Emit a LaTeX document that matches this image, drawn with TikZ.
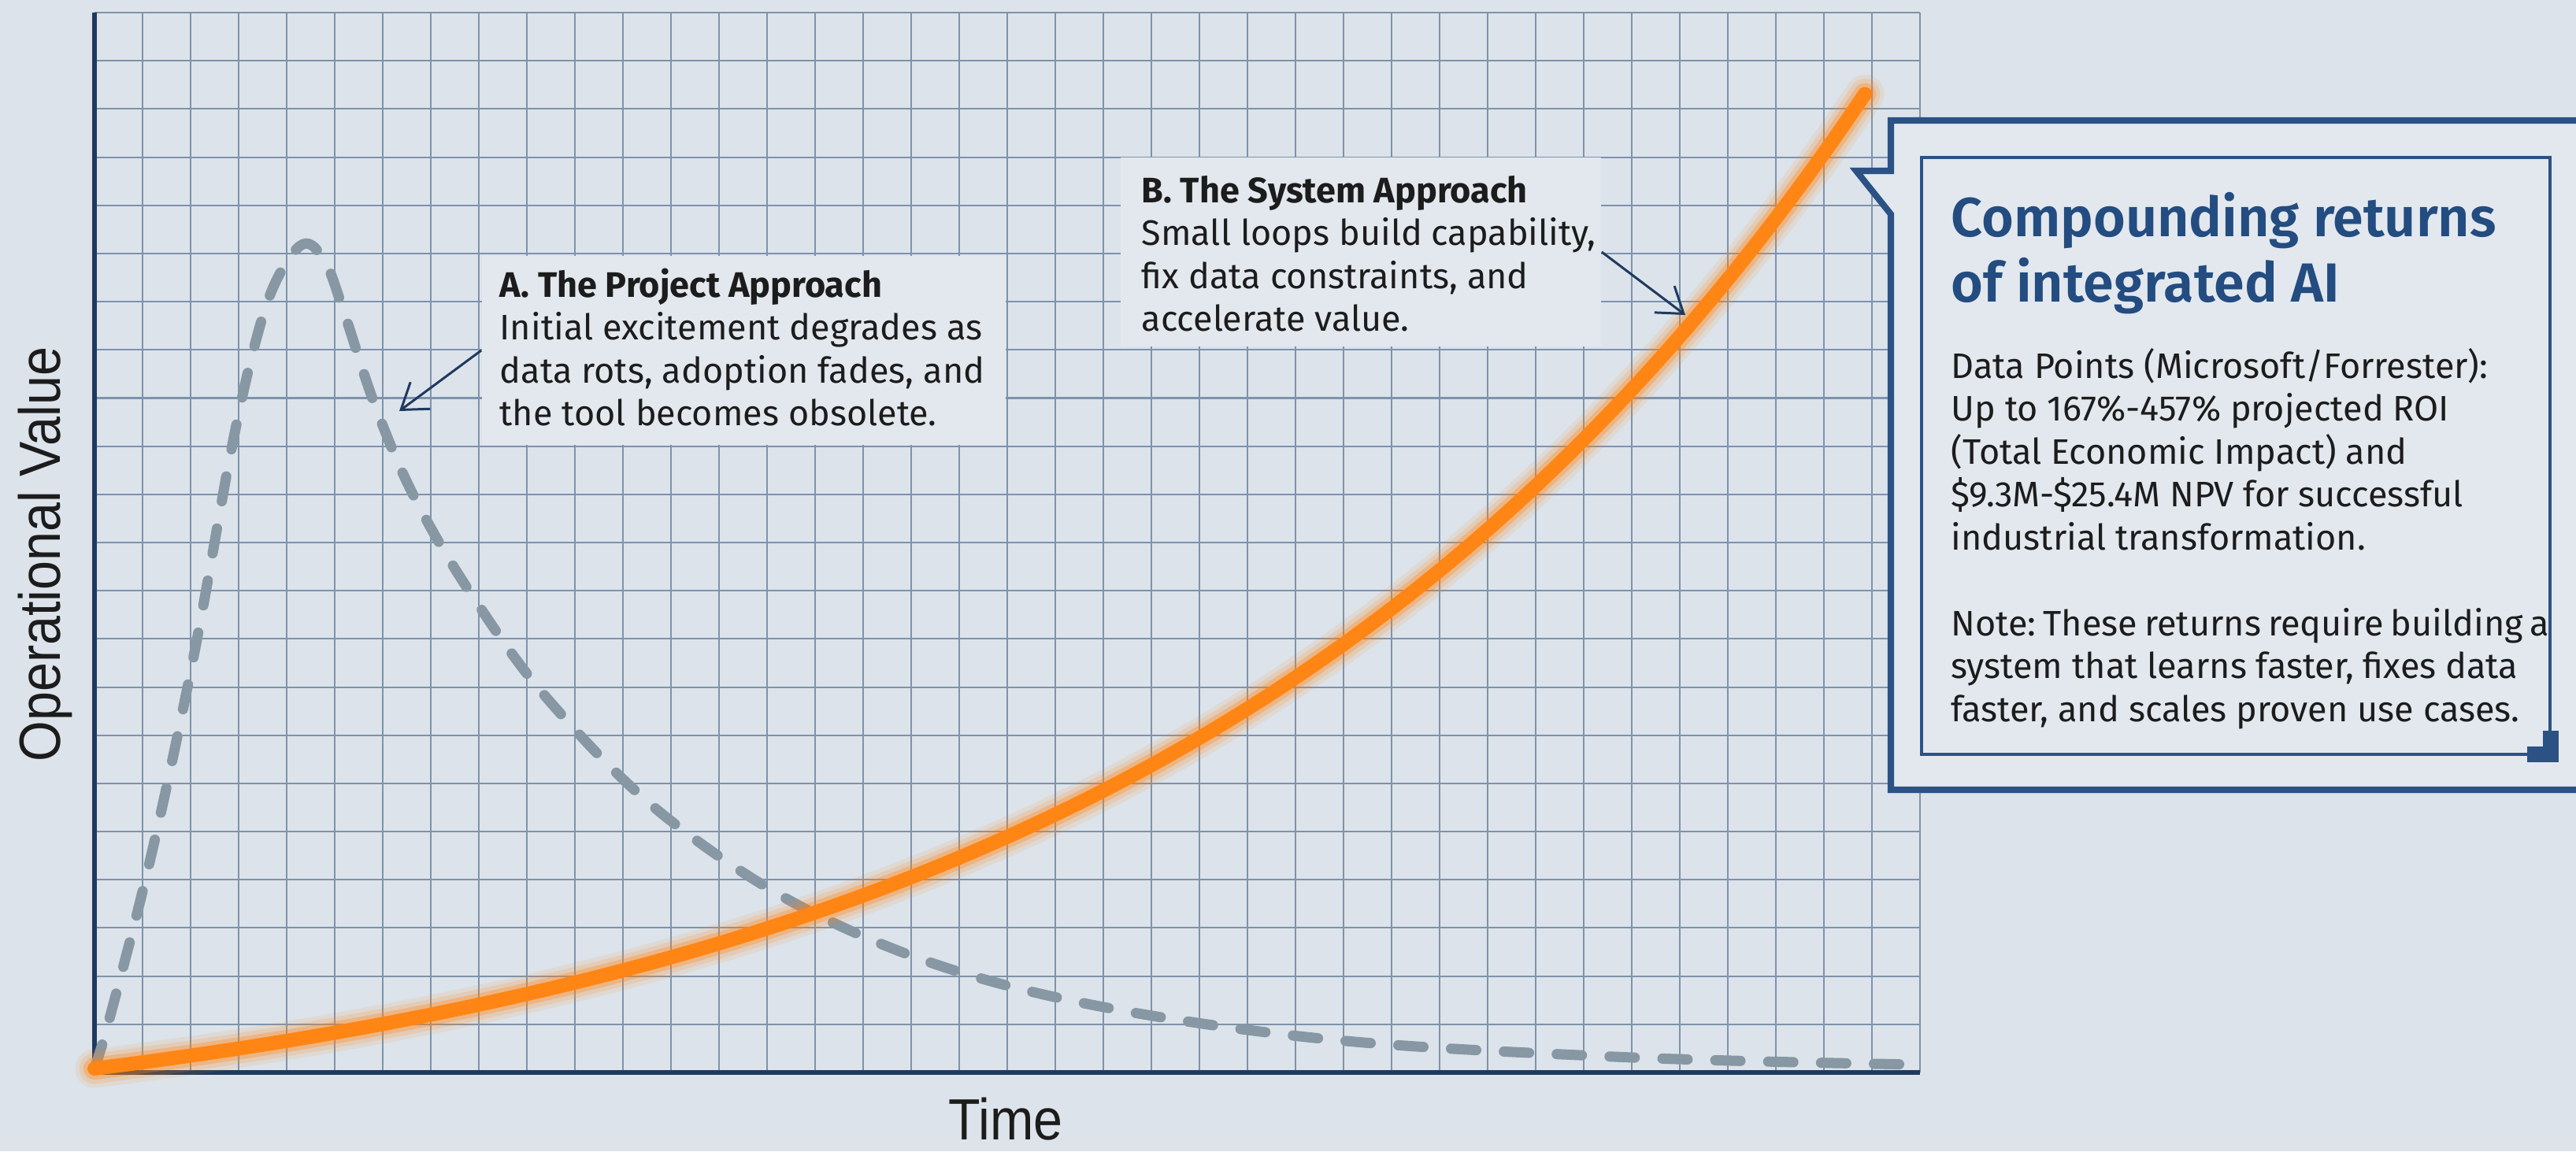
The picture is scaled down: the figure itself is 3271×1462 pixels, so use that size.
\documentclass[tikz,border=0pt]{standalone}
\usepackage{fontspec}
\setmainfont{Fira Sans}
\newfontfamily\headfont{Fira Sans SemiBold}
\newfontfamily\axisfont{Liberation Sans}[FakeStretch=0.9]
\usetikzlibrary{arrows.meta}
\frenchspacing

\definecolor{paper}{HTML}{DCE3EA}
\definecolor{boxfill}{HTML}{E3E8EE}
\definecolor{gridblue}{HTML}{7E93AB}
\definecolor{axisnavy}{HTML}{1F3A60}
\definecolor{framenavy}{HTML}{2C5285}
\definecolor{titleblue}{HTML}{234C80}
\definecolor{ink}{HTML}{1C1C1C}
\definecolor{dashgray}{HTML}{8797A4}
\definecolor{curveorange}{HTML}{FF8514}

\tikzset{
    gridline/.style = {draw=gridblue, line width=0.57pt},
    axisline/.style = {draw=axisnavy, line width=1.7pt, line join=miter},
    notebox/.style = {fill=boxfill, draw=none, inner sep=0pt},
    notetext/.style = {anchor=base west, inner sep=0pt, text=ink,
        font=\fontsize{12.8}{15.5}\selectfont},
    pointer/.style = {draw=axisnavy, line width=0.85pt,
        -{Straight Barb[length=8.7pt, width=12pt]}},
    axislabel/.style = {anchor=base, inner sep=0pt, text=ink,
        font=\axisfont\fontsize{21}{25}\selectfont},
}

\begin{document}
\begin{tikzpicture}[x=0.01cm, y=-0.01cm]
    \useasboundingbox (0,0) rectangle (3271,1462);
    \clip (0,0) rectangle (3271,1462);
    \fill [paper] (0,0) rectangle (3271,1462);

    % graph paper
    \foreach \i in {1,...,38}
        \draw [gridline] ({120+61*\i},16) -- ({120+61*\i},1362);
    \foreach \j in {1,...,22}
        \draw [gridline] (120,{1362-61.18*\j}) -- (2438,{1362-61.18*\j});

    \draw [axisline] (120,16) -- (120,1362) -- (2438,1362);

    \node [axislabel, rotate=90] (ylab) at (77,704) {Operational Value};
    \node [axislabel] (xlab) at (1277,1447) {Time};

    % labels A and B sit on plain patches over the grid
    \node [notebox, minimum width=6.65cm, minimum height=2.4cm] (boxA) at (944.5,445) {};
    \node [notebox, minimum width=6.1cm, minimum height=2.4cm] (boxB) at (1728,320) {};

    \node [notetext] (textA) at (634,377) {\parbox[t]{6.4cm}{\textbf{A. The Project Approach}\\
        Initial excitement degrades as\\
        data rots, adoption fades, and\\
        the tool becomes obsolete.}};

    \node [notetext] (textB) at (1449,257) {\parbox[t]{6cm}{\textbf{B. The System Approach}\\
        Small loops build capability,\\
        fix data constraints, and\\
        accelerate value.}};

    % project approach: spike, then decay
    \draw [dashgray, line width=3.7pt, line cap=round, dash pattern=on 9.1pt off 10pt]
        plot [smooth, tension=0.6] coordinates {(120,1357) (140,1290) (193,1082) (247,828)
        (293,575) (323,440) (350,358) (385,310) (413,333) (437,397) (477,517) (527,633)
        (600,757) (700,893) (850,1041) (1050,1168) (1300,1257) (1650,1316) (2050,1342)
        (2438,1352)};

    % system approach: compounding growth, with a soft glow
    \foreach \w/\o in {14/0.1, 11/0.16, 8/0.3}
        \draw [curveorange, line width=\w pt, opacity=\o, line cap=round]
            plot [domain=0:2248, samples=120] ({120+\x},{1357-114.4*(exp(0.0011*\x)-1)});
    \draw [curveorange, line width=5.1pt, line cap=round]
        plot [domain=0:2248, samples=120] ({120+\x},{1357-114.4*(exp(0.0011*\x)-1)});

    \coordinate (dropA) at (507,522);
    \coordinate (riseB) at (2140,400);
    \draw [pointer] (boxA.west) -- (dropA);
    \draw [pointer] (boxB.east) -- (riseB);

    % callout panel on the right
    \draw [framenavy, line width=2.3pt, fill=boxfill]
        (2401,153) -- (3300,153) -- (3300,1003) -- (2401,1003) -- (2401,272)
        -- (2357,217) -- (2401,217) -- cycle;
    \draw [framenavy, line width=1.1pt] (2440,200) rectangle (3238,958);
    \draw [framenavy, line width=5.7pt, line join=miter] (3209,958) -- (3239,958) -- (3239,928);

    \node [anchor=base west, inner sep=0pt, text=titleblue,
        font=\headfont\fontsize{19.9}{23.6}\selectfont] (rtitle) at (2477,300)
        {\parbox[t]{7.5cm}{Compounding returns\\of integrated AI}};

    \node [notetext, font=\fontsize{12.8}{15.5}\selectfont] (rbody) at (2477,480)
        {\parbox[t]{7.6cm}{Data Points (Microsoft/Forrester):\\
        Up to 167\%-457\% projected ROI\\
        (Total Economic Impact) and\\
        \$9.3M-\$25.4M NPV for successful\\
        industrial transformation.\\[15.5pt]
        \mbox{\spaceskip=0.75\fontdimen2\font Note: These returns require building a}\\
        system that learns faster, fixes data\\
        faster, and scales proven use cases.}};
\end{tikzpicture}
\end{document}
